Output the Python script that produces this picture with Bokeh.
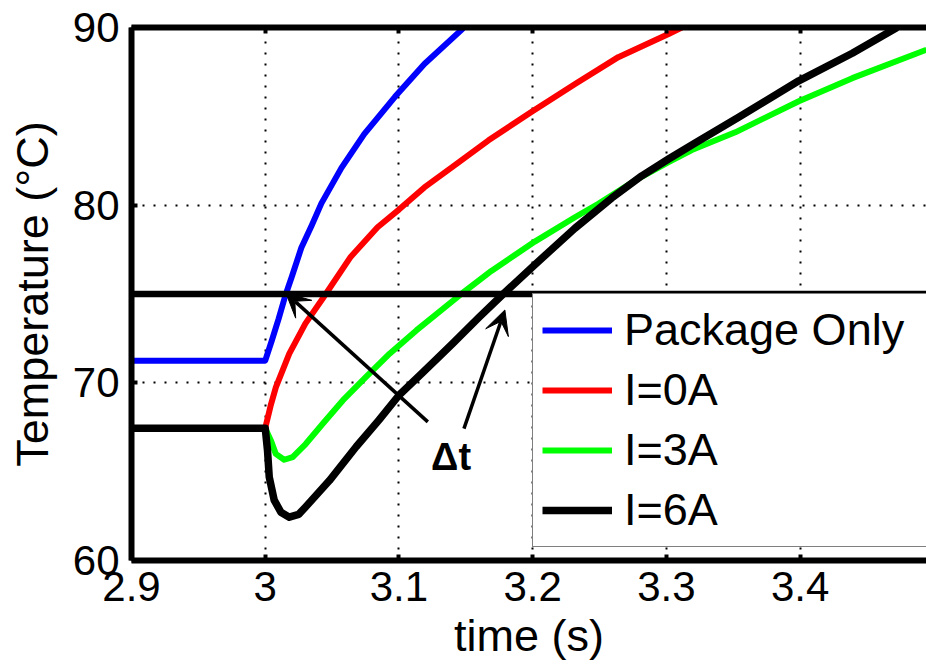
from bokeh.plotting import figure
from bokeh.models import (Range1d, FixedTicker, LinearAxis, Span, Arrow, VeeHead,
                          Label, Legend, LegendItem)
from bokeh.embed import file_html
from bokeh.resources import INLINE

# Junction temperature after the load step at t = 3 s
t_pkg = [2.9, 3.0, 3.005, 3.01, 3.015, 3.02, 3.027, 3.035, 3.042, 3.057, 3.074, 3.097, 3.119, 3.148]
temp_pkg = [71.25, 71.25, 72.4, 73.6, 74.9, 76.0, 77.6, 78.9, 80.1, 82.1, 84.0, 86.1, 87.95, 89.95]

t_i0 = [2.9, 3.0, 3.004, 3.008, 3.018, 3.030, 3.043, 3.064, 3.084, 3.1, 3.119, 3.139, 3.167,
        3.199, 3.232, 3.264, 3.302, 3.3115]
temp_i0 = [67.45, 67.45, 68.7, 69.76, 71.64, 73.33, 74.75, 77.1, 78.76, 79.75, 81.0, 82.1, 83.65,
           85.25, 86.83, 88.33, 89.65, 90.0]

t_i3 = [2.9, 3.0, 3.0042, 3.0079, 3.0142, 3.0205, 3.0304, 3.043, 3.058, 3.0754, 3.093, 3.113,
        3.1466, 3.1691, 3.2016, 3.2316, 3.2491, 3.2766, 3.3016, 3.319, 3.3515, 3.399,
        3.439, 3.4945]
temp_i3 = [67.45, 67.45, 66.76, 66.0, 65.67, 65.82, 66.57, 67.7, 69.01, 70.33, 71.64, 72.95,
           75.0, 76.3, 77.95, 79.32, 80.08, 81.39, 82.42, 83.1, 84.1, 85.85, 87.15, 88.75]

t_i6 = [2.9, 3.0, 3.0017, 3.003, 3.0067, 3.0117, 3.018, 3.025, 3.03, 3.048, 3.068, 3.085, 3.1,
        3.118, 3.14, 3.16, 3.178, 3.2016, 3.2316, 3.2591, 3.2816, 3.3016, 3.3215, 3.354, 3.399,
        3.439, 3.4725]
temp_i6 = [67.45, 67.45, 66.2, 64.7, 63.4, 62.72, 62.44, 62.6, 63.0, 64.5, 66.4, 67.9, 69.3,
           70.6, 72.2, 73.7, 75.0, 76.65, 78.7, 80.4, 81.65, 82.6, 83.5, 84.95, 87.0,
           88.55, 90.0]

series_names = ["Package Only", "I=0A", "I=3A", "I=6A"]
threshold = 75

x_ticks = [2.9, 3.0, 3.1, 3.2, 3.3, 3.4]
x_tick_labels = ["2.9", "3", "3.1", "3.2", "3.3", "3.4"]
y_ticks = [60, 70, 80, 90]

# Arrow annotations pointing at the threshold crossings: (x_start, y_start, x_end, y_end)
arrow_segments = [(3.1216, 67.8, 3.0155, 75.05), (3.1486, 67.42, 3.1792, 74.1)]

FONT = "Liberation Sans"

p = figure(width=926, height=664, x_range=Range1d(2.9, 3.4945), y_range=Range1d(60, 90),
           output_backend="svg", toolbar_location=None,
           min_border_left=131, min_border_right=0, min_border_top=27, min_border_bottom=104,
           background_fill_color="white", border_fill_color="white", outline_line_color=None)

r_pkg = p.line(t_pkg, temp_pkg, line_color="#0000ff", line_width=6, line_join="round")
r_i0 = p.line(t_i0, temp_i0, line_color="#ff0000", line_width=6, line_join="round")
r_i3 = p.line(t_i3, temp_i3, line_color="#00ff00", line_width=6, line_join="round")
r_i6 = p.line(t_i6, temp_i6, line_color="black", line_width=7.5, line_join="round")

# axes
x_axis = p.below[0]
y_axis = p.left[0]
x_axis.ticker = FixedTicker(ticks=x_ticks)
x_axis.major_label_overrides = dict(zip(x_ticks, x_tick_labels))
y_axis.ticker = FixedTicker(ticks=y_ticks)
x_axis.axis_label = "time (s)"
y_axis.axis_label = "Temperature (°C)"

for ax in (x_axis, y_axis):
    ax.major_label_text_font = FONT
    ax.major_label_text_font_size = "42px"
    ax.major_label_text_color = "black"
    ax.axis_label_text_font = FONT
    ax.axis_label_text_font_size = "45px"
    ax.axis_label_text_font_style = "normal"
    ax.axis_label_text_color = "black"

x_axis.major_label_standoff = 11
x_axis.axis_label_standoff = 6
y_axis.major_label_standoff = 12
y_axis.axis_label_standoff = 12

# frame edge on top, carrying inward ticks only
top_axis = LinearAxis(ticker=FixedTicker(ticks=x_ticks), major_label_text_font_size="0px",
                      major_label_text_alpha=0, major_label_standoff=0)
p.add_layout(top_axis, "above")

for ax in (x_axis, y_axis, top_axis):
    ax.axis_line_width = 6
    ax.axis_line_color = "black"
    ax.major_tick_in = 6
    ax.major_tick_out = 0
    ax.major_tick_line_width = 4
    ax.minor_tick_line_color = None

p.grid.grid_line_color = "black"
p.grid.grid_line_width = 2
p.grid.grid_line_dash = "2 9"

# threshold line
p.add_layout(Span(location=threshold, dimension="width", line_color="black", line_width=6.5))

for xs, ys, xe, ye in arrow_segments:
    p.add_layout(Arrow(end=VeeHead(size=24, fill_color="black", line_color="black", line_width=1),
                       x_start=xs, y_start=ys, x_end=xe, y_end=ye,
                       line_color="black", line_width=3.5))

p.add_layout(Label(x=3.139, y=65.85, text="Δt", text_font=FONT, text_font_style="bold",
                   text_font_size="38px", text_align="center", text_baseline="middle",
                   text_color="black"))

legend = Legend(items=[LegendItem(label=n, renderers=[r]) for n, r in
                       zip(series_names, [r_pkg, r_i0, r_i3, r_i6])],
                location=(401, 13), margin=0, padding=9, spacing=6,
                glyph_width=70, glyph_height=54, label_height=54, label_width=330,
                label_standoff=12, label_text_font=FONT, label_text_font_size="45px",
                label_text_color="black", border_line_color="black", border_line_width=1.5,
                background_fill_color="white", background_fill_alpha=1)
p.add_layout(legend)

open("out.html", "w").write(file_html(p, INLINE))
